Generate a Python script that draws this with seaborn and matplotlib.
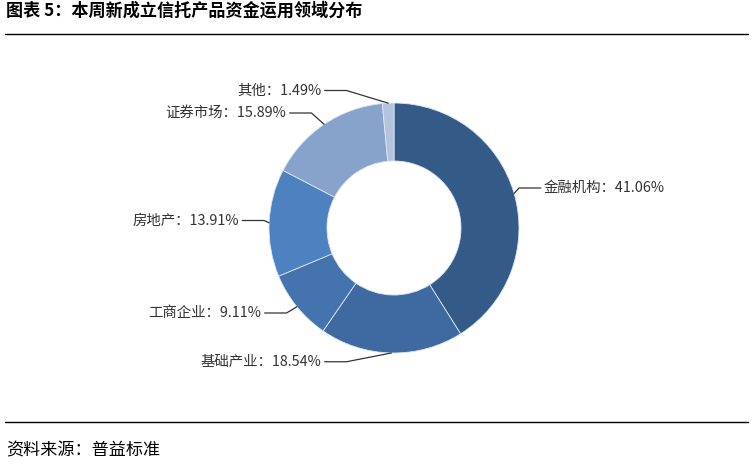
import numpy as np
import seaborn as sns
import matplotlib.pyplot as plt

# 数据
categories = ['金融机构', '基础产业', '工商企业', '房地产', '证券市场', '其他']
shares = [41.06, 18.54, 9.11, 13.91, 15.89, 1.49]
colors = ['#345a87', '#3e69a1', '#4473ae', '#4e81c0', '#87a2cb', '#b3c4df']

# 标签文字位置（以饼图半径为单位），x 为靠近饼图一侧的文字边缘
label_pos = [(1.20, 0.32), (-0.58, -1.07), (-1.06, -0.68),
             (-1.24, 0.06), (-0.86, 0.92), (-0.58, 1.10)]

sns.set_theme(style="white")
plt.rcParams['font.family'] = ['Noto Sans CJK SC', 'DejaVu Sans']

W, H = 753, 469
fig = plt.figure(figsize=(W / 100, H / 100), dpi=100)

# 饼图区域：圆心约 (394, 228)，外半径约 125 px
ax = fig.add_axes([(394 - 130) / W, (H - 228 - 130) / H, 260 / W, 260 / H])
wedges, _ = ax.pie(
    shares, colors=colors, startangle=90, counterclock=False, radius=1,
    wedgeprops=dict(width=0.464, edgecolor='#dde5f0', linewidth=0.6),
)
ax.set_xlim(-1.04, 1.04)
ax.set_ylim(-1.04, 1.04)
ax.axis('off')

# 引导线与标签
for w, cat, v, (tx, ty) in zip(wedges, categories, shares, label_pos):
    ang = np.deg2rad((w.theta1 + w.theta2) / 2)
    ax_x, ax_y = np.cos(ang), np.sin(ang)
    sign = 1 if tx > 0 else -1
    kx = tx - sign * 0.2
    ax.plot([ax_x, kx, tx - sign * 0.025], [ax_y, ty, ty],
            color='#333333', lw=0.9, clip_on=False)
    ax.text(tx, ty, f'{cat}：{v:.2f}%', ha='left' if sign > 0 else 'right',
            va='center', fontsize=10.4, color='#333333')

# 标题、分隔线、资料来源
fig.text(6 / W, 1 - 11 / H, '图表 5：本周新成立信托产品资金运用领域分布',
         fontsize=12.3, fontweight='bold', va='center', color='black')
fig.add_artist(plt.Line2D([5 / W, 748 / W], [1 - 34 / H] * 2, color='black', lw=1))
fig.add_artist(plt.Line2D([5 / W, 748 / W], [1 - 422 / H] * 2, color='black', lw=1))
fig.text(6 / W, 1 - 450 / H, '资料来源：普益标准', fontsize=12.3, va='center', color='black')

fig.savefig('out.png', dpi=100)
